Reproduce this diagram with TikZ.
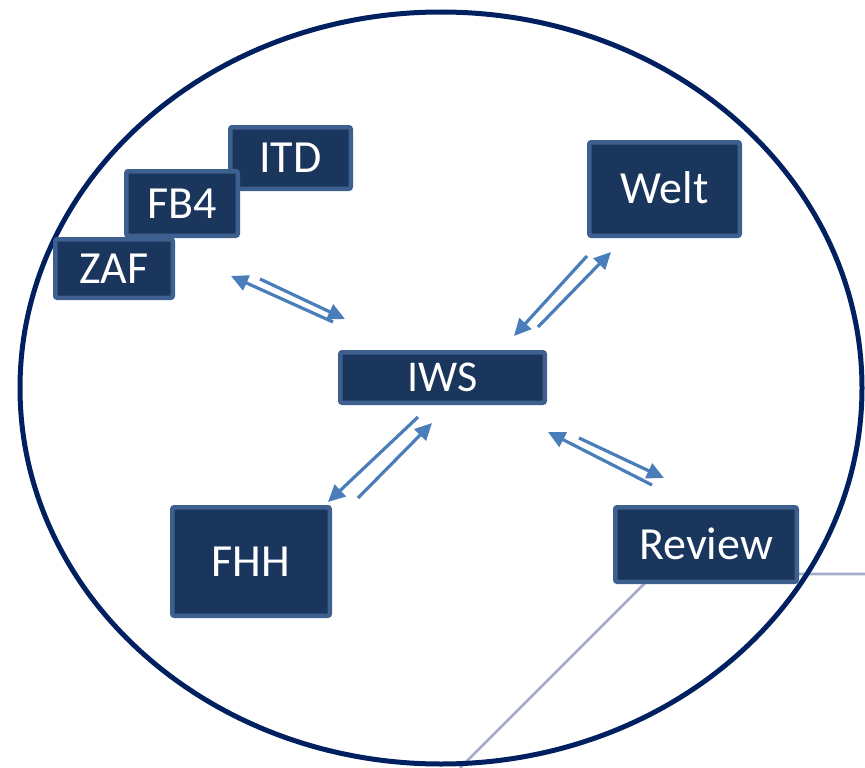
\documentclass[tikz,border=0pt]{standalone}
\usepackage{fontspec}
\setmainfont{Carlito}
\usetikzlibrary{arrows.meta}
\definecolor{boxfill}{RGB}{27,54,93}
\definecolor{boxline}{RGB}{62,96,142}
\definecolor{arr}{RGB}{74,126,187}
\definecolor{ring}{RGB}{0,32,96}
\definecolor{grayline}{RGB}{165,172,200}
\begin{document}
\begin{tikzpicture}[x=1pt,y=-1pt,
  box/.style={draw=boxline, line width=4.5pt, fill=boxfill, rounded corners=2pt,
    text=white, font=\fontsize{46}{50}\selectfont, inner sep=0pt,
    text height=29.5pt, text depth=0pt, anchor=center},
  arw/.style={draw=arr, line width=3.2pt, -{Triangle[length=17pt,width=16pt]}},
  ringline/.style={draw=ring, line width=5pt},
  greyconn/.style={draw=grayline, line width=2.8pt}]
\useasboundingbox (0,0) rectangle (865,768);
% grey connector behind
\coordinate (g1) at (865,574);
\coordinate (g2) at (654,574);
\coordinate (g3) at (460,768);
\draw[greyconn] (g1) -- (g2) -- (g3);
% outer ring
\draw[ringline] (441,388) ellipse [x radius=421, y radius=376];
% boxes
\node[box, minimum width=120.5pt, minimum height=61.5pt] (itd) at (290.5,158) {ITD};
\node[box, minimum width=111.5pt, minimum height=64.5pt] (fb4) at (182,203.5) {FB4};
\node[box, minimum width=117.5pt, minimum height=58.5pt] (zaf) at (114,268.5) {ZAF};
\node[box, minimum width=150.5pt, minimum height=93.5pt] (welt) at (664.5,189) {Welt};
\node[box, minimum width=204.5pt, minimum height=50.5pt, font=\fontsize{44}{48}\selectfont, text height=28.3pt] (iws) at (442.5,377.5) {IWS};
\node[box, minimum width=157.5pt, minimum height=108.5pt] (fhh) at (251,561.5) {FHH};
\node[box, minimum width=181.5pt, minimum height=74.5pt] (review) at (706,544.5) {Review};
% arrow end points
\coordinate (a1s) at (333,322); \coordinate (a1e) at (231,276);
\coordinate (b1s) at (260,279); \coordinate (b1e) at (345,319);
\coordinate (a2s) at (587,256); \coordinate (a2e) at (514,336);
\coordinate (b2s) at (538,327); \coordinate (b2e) at (611,252);
\coordinate (a3s) at (418,417); \coordinate (a3e) at (328,502);
\coordinate (b3s) at (358,498); \coordinate (b3e) at (432,423);
\coordinate (a4s) at (652,485); \coordinate (a4e) at (548,432);
\coordinate (b4s) at (579,438); \coordinate (b4e) at (664,478);
\draw[arw] (a1s) -- (a1e);
\draw[arw] (b1s) -- (b1e);
\draw[arw] (a2s) -- (a2e);
\draw[arw] (b2s) -- (b2e);
\draw[arw] (a3s) -- (a3e);
\draw[arw] (b3s) -- (b3e);
\draw[arw] (a4s) -- (a4e);
\draw[arw] (b4s) -- (b4e);
\end{tikzpicture}
\end{document}
